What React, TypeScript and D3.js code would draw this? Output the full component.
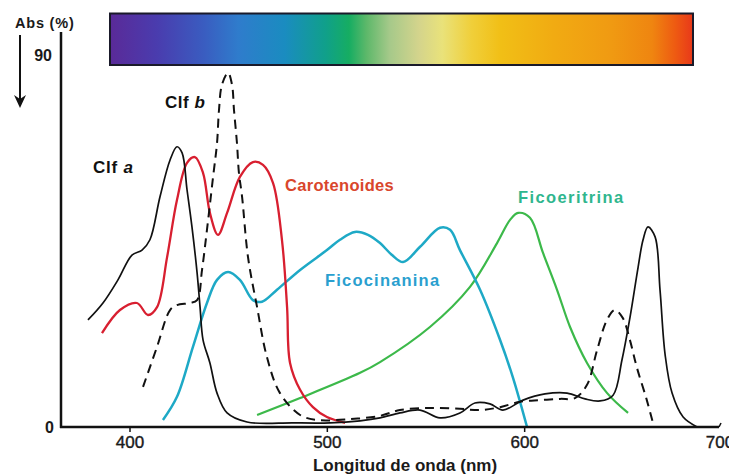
import React from "react";
import * as d3 from "d3";

type P = [number, number];

const xTicks = [400, 500, 600, 700];
const yTicks = [0, 90];

// Clorofila a (solid black)
const clfA: P[] = [
  [378.7, 25.9], [386.3, 30.0], [393.9, 35.6], [401.0, 41.6], [406.1, 42.8], [410.1, 45.3],
  [415.2, 55.7], [420.3, 64.6], [423.8, 67.8], [426.4, 66.3], [428.9, 57.4], [431.4, 48.4],
  [434.0, 37.3], [435.5, 29.0], [437.0, 21.1], [440.5, 15.5], [444.1, 8.2], [449.2, 3.4],
  [459.3, 1.2], [482.6, 1.0], [501.4, 1.0], [516.6, 1.5], [526.7, 2.2], [536.8, 3.4],
  [547.0, 4.1], [557.1, 2.2], [567.2, 3.4], [574.8, 5.8], [582.4, 5.6], [589.0, 4.1],
  [599.2, 6.5], [610.3, 8.0], [621.5, 8.2], [630.6, 6.8], [638.2, 6.3], [644.8, 7.7],
  [649.3, 16.2], [653.4, 26.6], [657.5, 38.7], [660.0, 45.3], [662.5, 48.4], [666.1, 46.0],
  [668.6, 33.1], [671.2, 17.4], [674.7, 8.2], [680.3, 2.4], [687.4, 0],
];

// Clorofila b (dashed black)
const clfB: P[] = [
  [406.6, 9.7], [413.7, 19.4], [420.3, 28.3], [423.8, 29.5], [430.4, 30.0], [434.0, 30.7],
  [436.5, 38.0], [439.0, 47.7], [442.1, 60.5], [444.1, 68.7], [445.1, 76.7], [446.6, 82.8],
  [449.7, 85.7], [451.7, 82.8], [452.7, 76.7], [454.2, 68.7], [455.2, 61.5], [456.8, 55.7],
  [459.8, 41.1], [464.4, 29.0], [469.4, 16.9], [476.0, 8.2], [486.2, 2.9], [494.8, 1.7],
  [511.5, 1.9], [526.7, 2.7], [536.8, 4.1], [552.0, 4.6], [567.2, 4.4], [577.4, 4.1],
  [587.5, 4.8], [597.7, 6.1], [607.8, 6.5], [617.9, 6.8], [625.5, 7.0], [631.6, 10.2],
  [636.7, 18.6], [641.7, 25.9], [645.7, 28.3], [649.7, 26.4], [653.3, 21.1], [656.8, 14.5],
  [661.9, 6.5], [665.0, 1.0],
];

const carotenoides: P[] = [
  [385.8, 22.7], [394.9, 28.3], [403.5, 30.0], [409.1, 27.1], [413.7, 29.0], [418.8, 41.1],
  [423.8, 54.9], [428.9, 63.9], [432.9, 65.3], [437.0, 61.5], [440.5, 51.8], [444.6, 46.5],
  [449.2, 51.8], [455.7, 60.5], [462.3, 64.1], [467.4, 63.4], [472.5, 59.0], [477.0, 45.3],
  [479.6, 29.0], [481.1, 15.5], [486.2, 9.0], [492.7, 4.8], [499.8, 2.4], [509.0, 1.0],
];

const ficocianina: P[] = [
  [416.7, 1.7], [423.8, 7.3], [431.9, 19.4], [439.0, 30.0], [444.1, 35.6], [449.7, 37.5],
  [455.7, 35.6], [462.3, 30.7], [466.9, 30.3], [474.5, 33.2], [486.2, 38.0], [499.8, 42.8],
  [506.4, 45.3], [514.0, 47.2], [520.6, 46.5], [526.7, 44.5], [532.8, 41.6], [538.4, 39.9],
  [547.0, 43.6], [557.1, 48.2], [562.2, 47.7], [567.2, 42.8], [577.4, 33.2], [587.5, 21.1],
  [594.1, 11.9], [601.2, 0],
];

const ficoeritrina: P[] = [
  [464.4, 2.9], [486.2, 7.0], [516.6, 13.1], [526.7, 15.7], [552.0, 24.2], [572.3, 33.9],
  [586.0, 44.5], [592.6, 50.1], [596.7, 51.8], [602.7, 50.6], [609.3, 42.1], [616.4, 33.2],
  [623.0, 24.2], [631.6, 15.5], [641.8, 8.2], [652.4, 3.4],
];

const spectrumStops: [number, string][] = [
  [0, "#5a2a98"], [0.08, "#4a3cae"], [0.16, "#3a5cc0"], [0.22, "#2f7ccc"], [0.3, "#1a8cc0"],
  [0.37, "#10a08a"], [0.41, "#16ad62"], [0.44, "#5db86a"], [0.48, "#a6c98a"], [0.53, "#d4d48c"],
  [0.57, "#e9e27a"], [0.62, "#f0cf3a"], [0.67, "#f1bf16"], [0.76, "#f1ab12"], [0.86, "#f09a12"],
  [0.93, "#ef8510"], [0.97, "#ee5a12"], [1, "#e8381a"],
];

const FONT = "'Liberation Sans', Arial, sans-serif";

export default function App() {
  const x = d3.scaleLinear().domain([400, 700]).range([130, 722]);
  const y = d3.scaleLinear().domain([0, 90]).range([427, 55]);
  const line = d3
    .line<P>()
    .x((d) => x(d[0]))
    .y((d) => y(d[1]))
    .curve(d3.curveCatmullRom.alpha(0.5));

  const x0 = 61;
  const xEnd = 719;

  return (
    <svg
      width={729}
      height={474}
      style={{ position: "fixed", left: 0, top: 0, background: "#fff" }}
      fontFamily={FONT}
    >
      <defs>
        <linearGradient id="spec" x1="0" x2="1" y1="0" y2="0">
          {spectrumStops.map(([o, c]) => (
            <stop key={o} offset={o} stopColor={c} />
          ))}
        </linearGradient>
      </defs>
      <rect x={0} y={0} width={729} height={474} fill="#fff" />

      {/* spectrum bar */}
      <rect x={110} y={13.5} width={583} height={51.5} fill="url(#spec)" stroke="#1a1a2a" strokeWidth={2} />

      {/* curves */}
      <path d={line(ficoeritrina) || ""} fill="none" stroke="#3cb94a" strokeWidth={2.2} />
      <path d={line(ficocianina) || ""} fill="none" stroke="#1ea9c6" strokeWidth={2.5} />
      <path d={line(carotenoides) || ""} fill="none" stroke="#d81f30" strokeWidth={2.3} />
      <path d={line(clfB) || ""} fill="none" stroke="#111" strokeWidth={2} strokeDasharray="9 6" />
      <path d={line(clfA) || ""} fill="none" stroke="#111" strokeWidth={1.7} />

      {/* axes */}
      <line x1={x0} x2={x0} y1={32} y2={428} stroke="#111" strokeWidth={2.5} />
      <line x1={x0 - 1} x2={xEnd} y1={y(0)} y2={y(0)} stroke="#111" strokeWidth={2.5} />
      <line x1={xEnd} x2={xEnd + 2} y1={y(0)} y2={y(0) - 4} stroke="#111" strokeWidth={1.5} />
      {xTicks.slice(0, 3).map((t) => (
        <line key={t} x1={x(t)} x2={x(t)} y1={y(0)} y2={y(0) + 5} stroke="#111" strokeWidth={1.5} />
      ))}
      {xTicks.map((t) => (
        <text key={t} x={t === 700 ? x(t) - 2 : x(t)} y={448} textAnchor="middle" fontSize={17} fill="#1a1a1a" stroke="#1a1a1a" strokeWidth={0.4}>
          {t}
        </text>
      ))}
      {yTicks.map((t) => (
        <text key={t} x={t === 0 ? 54 : 52} y={y(t) + 6} textAnchor="end" fontSize={16} fontWeight="bold" fill="#1a1a1a">
          {t}
        </text>
      ))}
      <text x={405} y={471} textAnchor="middle" fontSize={17} fontWeight="bold" fill="#1a1a1a">
        Longitud de onda (nm)
      </text>

      {/* Abs label and arrow */}
      <text x={15} y={28} fontSize={14.5} fontWeight="bold" fill="#1a1a1a" letterSpacing={0.8}>
        Abs (%)
      </text>
      <line x1={20} x2={20} y1={35} y2={100} stroke="#111" strokeWidth={2} />
      <path d="M14,95 L20,108 L26,95 L20,99 Z" fill="#111" />

      {/* series labels */}
      <text x={93} y={173} fontSize={17} fontWeight="bold" fill="#111" letterSpacing={0.8}>
        Clf <tspan fontStyle="italic">a</tspan>
      </text>
      <text x={165} y={108} fontSize={17} fontWeight="bold" fill="#111" letterSpacing={0.5}>
        Clf <tspan fontStyle="italic">b</tspan>
      </text>
      <text x={285} y={191} fontSize={16.5} fontWeight="bold" fill="#d9462c" letterSpacing={0.3}>
        Carotenoides
      </text>
      <text x={325} y={286} fontSize={16.5} fontWeight="bold" fill="#2a9fcf" letterSpacing={1.2}>
        Ficocinanina
      </text>
      <text x={518} y={203} fontSize={16.5} fontWeight="bold" fill="#2fb68e" letterSpacing={1.4}>
        Ficoeritrina
      </text>
    </svg>
  );
}
